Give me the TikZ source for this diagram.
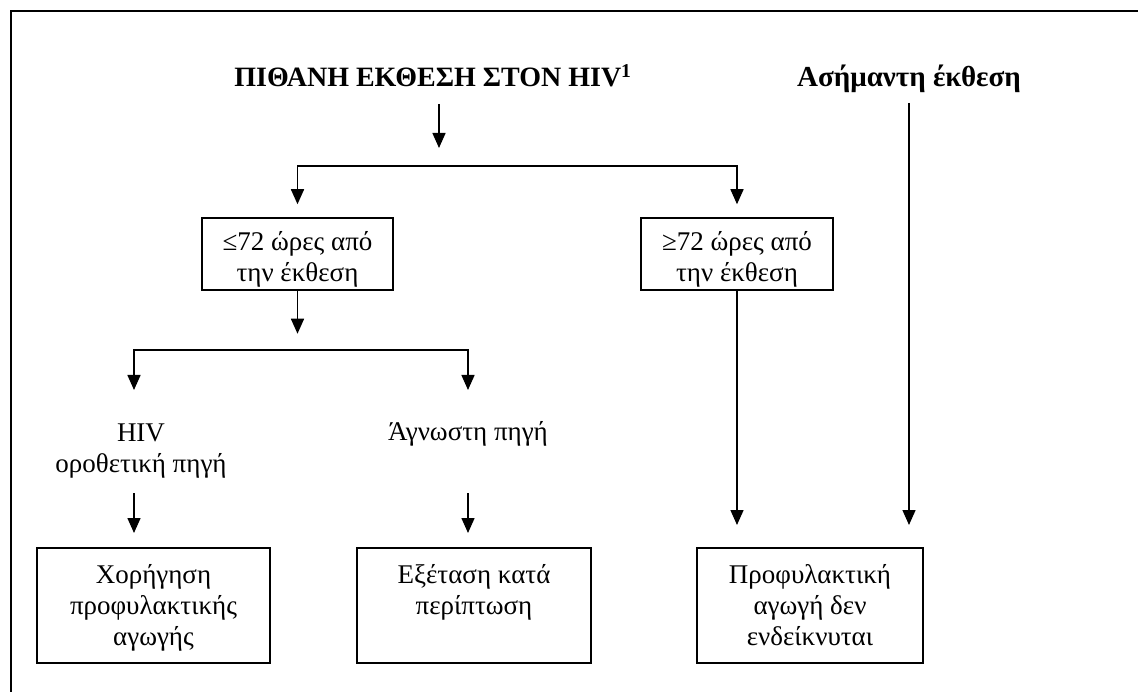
\documentclass[tikz,border=0pt]{standalone}
\usepackage{fontspec}
\setmainfont{Liberation Serif}
\usetikzlibrary{arrows.meta}
\begin{document}
\begin{tikzpicture}[x=1pt,y=-1pt,
  arr/.style={line width=1.5pt,-{Triangle[width=13pt,length=15pt]}},
  boxnode/.style={draw,line width=1.5pt,inner sep=0pt,font=\fontsize{27}{31}\selectfont},
  lab/.style={inner sep=0pt,align=center,font=\fontsize{27}{31}\selectfont},
]
\useasboundingbox (0,0) rectangle (1138,692);
\draw[line width=2.5pt] (1138,11) -- (11,11) -- (11,692);

\node[anchor=base,inner sep=0pt,font=\fontsize{28}{34}\selectfont\bfseries] (title) at (433,87) {ΠΙΘΑΝΗ ΕΚΘΕΣΗ ΣΤΟΝ HIV\textsuperscript{1}};
\node[anchor=base,inner sep=0pt,font=\fontsize{29}{34}\selectfont\bfseries] (asim) at (909,87) {Ασήμαντη έκθεση};

\node[boxnode] (b1) at (297.5,254) {\parbox[c][72pt][t]{191pt}{\centering\rule{0pt}{33pt}≤72 ώρες από\\την έκθεση}};
\node[boxnode] (b2) at (737,254) {\parbox[c][72pt][t]{192pt}{\centering\rule{0pt}{33pt}≥72 ώρες από\\την έκθεση}};

\node[lab,anchor=base] (l1) at (141,472) {HIV\\οροθετική πηγή};
\node[lab,anchor=base] (l2) at (468,441) {Άγνωστη πηγή};

\node[boxnode] (c1) at (153.5,605.5) {\parbox[c][115pt][t]{233pt}{\centering\rule{0pt}{35pt}Χορήγηση\\προφυλακτικής\\αγωγής}};
\node[boxnode] (c2) at (474,605.5) {\parbox[c][115pt][t]{234pt}{\centering\rule{0pt}{35pt}Εξέταση κατά\\περίπτωση}};
\node[boxnode] (c3) at (810,605.5) {\parbox[c][115pt][t]{226pt}{\centering\rule{0pt}{35pt}Προφυλακτική\\αγωγή δεν\\ενδείκνυται}};

\coordinate (a1s) at (439,104);
\coordinate (a1e) at (439,148);
\draw[arr] (a1s) -- (a1e);

\coordinate (s1) at (517,166);
\draw[arr] (s1) -| ([yshift=13pt]b1.north);
\draw[arr] (s1) -| ([yshift=13pt]b2.north);

\draw[arr] (b1.south) -- ++(0,43);
\coordinate (s2) at (298,350);
\coordinate (l1t) at (134,390);
\coordinate (l2t) at (468,390);
\draw[arr] (s2) -| (l1t);
\draw[arr] (s2) -| (l2t);

\coordinate (d1s) at (134,493);
\coordinate (d1e) at (134,533);
\coordinate (d2s) at (468,493);
\coordinate (d2e) at (468,533);
\draw[arr] (d1s) -- (d1e);
\draw[arr] (d2s) -- (d2e);

\coordinate (t3) at (0,525);
\coordinate (asx) at (909,103);
\draw[arr] (b2.south) -- (b2.south |- t3);
\draw[arr] (asx) -- (asx |- t3);
\end{tikzpicture}
\end{document}
